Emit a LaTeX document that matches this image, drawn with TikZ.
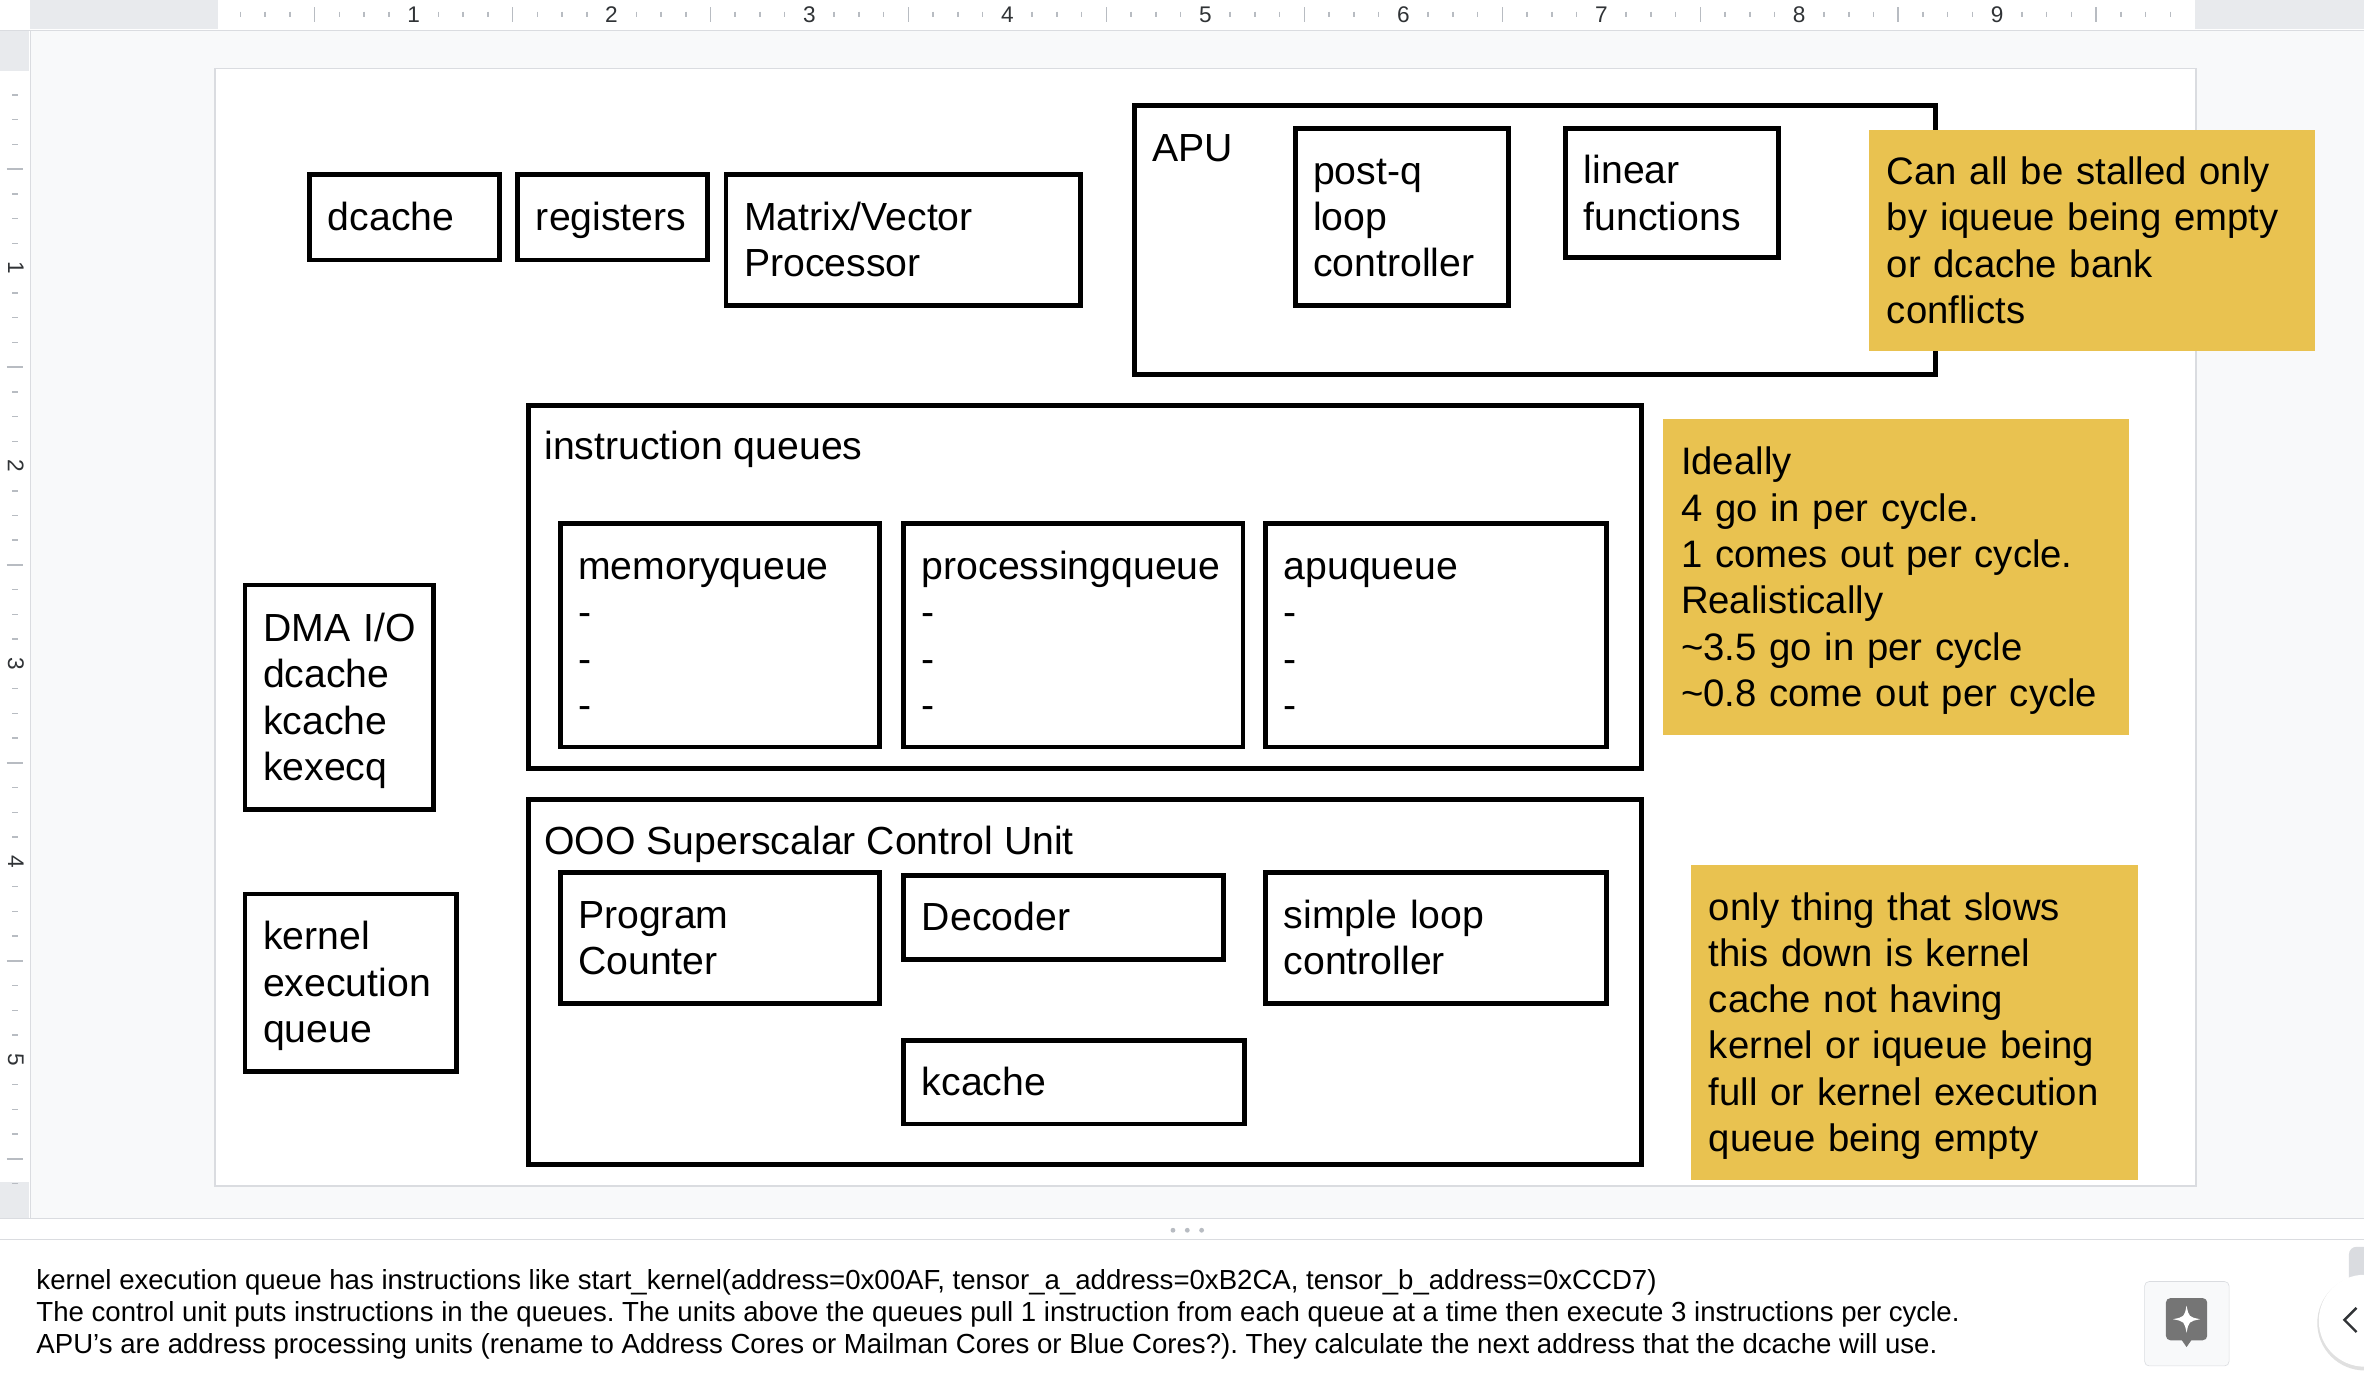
\documentclass[tikz,border=0pt]{standalone}
\usepackage{fontspec}
\setmainfont{Liberation Sans}
\usetikzlibrary{calc}
\definecolor{Gold}{RGB}{233,194,80}
\definecolor{Desk}{HTML}{F8F9FA}
\definecolor{RulerGray}{HTML}{E8EAED}
\definecolor{Edge}{HTML}{DADCE0}
\definecolor{Tick}{HTML}{B8BCC2}
\definecolor{Digit}{HTML}{303336}
\definecolor{Icon}{HTML}{757575}
\newcommand{\Strut}{\vrule width 0pt height 23.6pt depth 5.6pt}
% box from its corners: name, x1, y1, x2, y2, text
\NewDocumentCommand{\Block}{O{block} m m m m m m}{%
    \pgfmathsetmacro\bw{#5-#3-3}%
    \pgfmathsetmacro\bh{#6-#4-3}%
    \pgfmathsetmacro\tw{#5-#3-3-24}%
    \node[#1, minimum width=\bw pt, minimum height=\bh pt, text width=\tw pt]
        (#2) at ({(#3+#5)/2},{(#4+#6)/2}) {#7};%
}
\frenchspacing
\begin{document}
\begin{tikzpicture}[x=1pt, y=-1pt,
    block/.style={draw, line width=3.2pt, inner xsep=12pt, inner ysep=0pt, align=left,
        font=\fontsize{26}{30.7}\selectfont,
        execute at begin node=\Strut, execute at end node=\Strut},
    note/.style={block, draw=none, fill=Gold, font=\fontsize{25.4}{30.7}\selectfont},
    head/.style={anchor=base west, inner sep=0pt, font=\fontsize{26}{30.7}\selectfont},
    tick/.style={Tick, line width=1pt},
    digit/.style={text=Digit, inner sep=0pt, font=\fontsize{15}{17}\selectfont},
    memo/.style={anchor=base west, inner sep=0pt, font=\fontsize{18.3}{21.5}\selectfont}]
\useasboundingbox (0,0) rectangle (1568,917);
\fill[white] (0,0) rectangle (1568,917);
\fill[Desk] (20,20) rectangle (1568,808);

% rulers
\fill[RulerGray] (20,0) rectangle (1568,19.5);
\fill[white] (144.5,0) rectangle (1456,19.5);
\fill[RulerGray] (0,20) rectangle (19.5,808);
\fill[white] (0,47) rectangle (19.5,784);
\draw[Edge] (0,20) -- (1568,20);
\draw[Edge] (20,20) -- (20,808);
\foreach \i in {1,...,79}{
    \pgfmathtruncatemacro\m{mod(\i,8)}
    \ifnum\m=4 \draw[tick] ({143+\i*16.4125},4.9) -- ++(0,9.5);
    \else\ifnum\m>0 \draw[tick] ({143+\i*16.4125},7.7) -- ++(0,3.8);\fi\fi
}
\foreach \i in {1,...,45}{
    \pgfmathtruncatemacro\m{mod(\i,8)}
    \ifnum\m=4 \draw[tick] (4.5,{46.5+\i*16.4125}) -- ++(10.7,0);
    \else\ifnum\m>0 \draw[tick] (8,{46.5+\i*16.4125}) -- ++(4,0);\fi\fi
}
\foreach \n in {1,...,9}
    \node[digit] (top-\n) at ({143+\n*131.3},10) {\n};
\foreach \n in {1,...,5}
    \node[digit, rotate=-90] (side-\n) at (10.5,{46.5+\n*131.3}) {\n};

% slide
\fill[Edge] (142,45) rectangle (1457.5,787.5);
\fill[white] (143,46) rectangle (1456,786);

\Block{dcache}{204}{114}{333}{174}{dcache}
\Block{registers}{342}{114}{471}{174}{registers}
\Block{mvp}{480}{114}{718}{204}{Matrix/Vector\\Processor}

\Block{apu}{751}{68.5}{1285.5}{250}{}
\node[head] (apu-head) at ([shift={(13,38.5)}]apu.north west) {APU};
\Block{postq}{857.5}{84}{1002}{204}{post-q\\loop\\controller}
\Block{linear}{1037}{84}{1181}{172.5}{linear\\functions}

\Block{iq}{349}{267.5}{1090}{511.5}{}
\node[head] (iq-head) at ([shift={(12,37.5)}]iq.north west) {instruction queues};
\Block{memq}{370}{346}{585}{497}{memoryqueue\\-\\-\\-}
\Block{procq}{598}{346}{826}{497}{processingqueue\\-\\-\\-}
\Block{apuq}{838}{346}{1067}{497}{apuqueue\\-\\-\\-}

\Block{dma}{161}{386.5}{289}{538.5}{DMA~I/O\\dcache\\kcache\\kexecq}
\Block{keq}{161}{591.5}{304.5}{712}{kernel\\execution\\queue}

\Block{ooo}{349}{529}{1090}{774}{}
\node[head] (ooo-head) at ([shift={(12,38)}]ooo.north west) {OOO Superscalar Control Unit};
\Block{pc}{370}{577}{585}{667}{Program\\Counter}
\Block{decoder}{598}{579}{813}{638}{Decoder}
\Block{slc}{838}{577}{1067}{667}{simple loop\\controller}
\Block{kcache}{598}{688.5}{827}{747}{kcache}

% sticky notes
\Block[note]{stall}{1238}{85}{1537}{234}{Can all be stalled only\\by iqueue being empty\\or dcache bank\\conflicts}
\Block[note]{rate}{1101.5}{276.5}{1413.5}{489}{Ideally\\4 go in per cycle.\\1 comes out per cycle.\\Realistically\\\textasciitilde3.5 go in per cycle\\\textasciitilde0.8 come out per cycle}
\Block[note]{slow}{1120}{572}{1419.5}{784}{only thing that slows\\this down is kernel\\cache not having\\kernel or iqueue being\\full or kernel execution\\queue being empty}

% speaker notes panel
\draw[Edge] (0,808) -- (1568,808);
\draw[Edge] (0,822) -- (1568,822);
\foreach \d in {778,787.5,797}
    \fill[Tick] (\d,816) circle (1.6);
\node[memo] (notes-1) at (24,855) {kernel execution queue has instructions like start\_kernel(address=0x00AF, tensor\_a\_address=0xB2CA, tensor\_b\_address=0xCCD7)};
\node[memo] (notes-2) at (24,876.5) {The control unit puts instructions in the queues. The units above the queues pull 1 instruction from each queue at a time then execute 3 instructions per cycle.};
\node[memo] (notes-3) at (24,898) {APU’s are address processing units (rename to Address Cores or Mailman Cores or Blue Cores?). They calculate the next address that the dcache will use.};

\node[draw=Edge, fill=Desk, rounded corners=3pt, minimum size=56pt, inner sep=0pt] (hint) at (1450.5,878) {};
\fill[Icon, rounded corners=3pt] (1436.6,861) rectangle (1464,889);
\fill[Icon] (1446.5,888) -- (1450.3,893.5) -- (1454.1,888) -- cycle;
\begin{scope}[shift={(1450.3,875)}]
    \fill[white] (0,-9) .. controls (1.5,-1.5) .. (9,0) .. controls (1.5,1.5) .. (0,9)
        .. controls (-1.5,1.5) .. (-9,0) .. controls (-1.5,-1.5) .. cycle;
\end{scope}
\fill[Edge, rounded corners=5pt] (1558,827) rectangle (1576,865);
\fill[black!12] (1568.5,877.5) circle (31.5);
\fill[white] (1568.5,876) circle (30.5);
\draw[Digit, line width=1.6pt] (1563,867.5) -- (1555,875.5) -- (1563,883.5);
\end{tikzpicture}
\end{document}
